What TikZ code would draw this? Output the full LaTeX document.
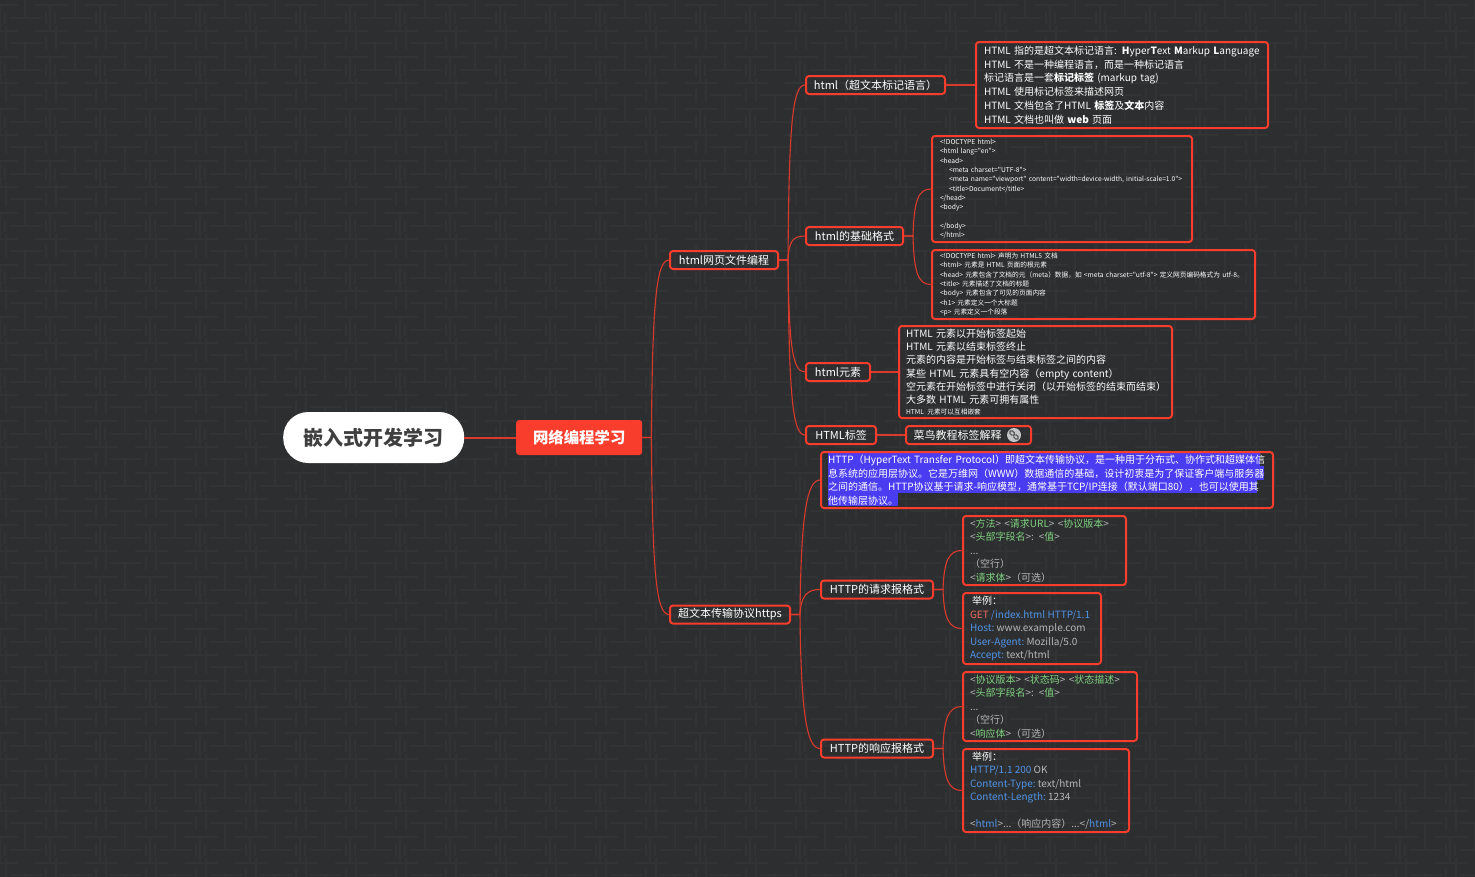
\documentclass[tikz,border=0pt]{standalone}
\usepackage{fontspec}
\setmainfont{Noto Sans CJK SC}[Ligatures=TeXOff]
\usetikzlibrary{calc}
\definecolor{bgdark}{HTML}{2D2E2F}
\definecolor{bgline}{HTML}{323334}
\definecolor{mapred}{HTML}{F93D2D}
\definecolor{linkred}{HTML}{D93A2C}
\definecolor{selblue}{HTML}{4A3CF0}
\definecolor{kwgreen}{HTML}{7FD07F}
\definecolor{kwblue}{HTML}{4F94E8}
\definecolor{kwgrey}{HTML}{B4B6B8}
\definecolor{kwred}{HTML}{EE6A5E}
\newcommand{\gn}[1]{\textcolor{kwgreen}{#1}}
\newcommand{\bl}[1]{\textcolor{kwblue}{#1}}
\newcommand{\rd}[1]{\textcolor{kwred}{#1}}
\newcommand{\ts}{\hspace{.22em}}
\tikzset{
	tagbox/.style={draw=mapred, line width=2pt, rounded corners=3pt, anchor=west, align=center, text=white, inner sep=0pt, minimum height=18pt, font=\fontsize{11}{13}\selectfont},
	txtbox/.style={draw=mapred, line width=2pt, rounded corners=3pt, anchor=north west, align=left, text=white, inner xsep=8pt, inner ysep=0pt},
	nearbox/.style={txtbox, inner xsep=7pt},
	branch/.style={draw=linkred, line width=1.1pt},
	big/.style={font=\fontsize{10}{13.5}\selectfont},
	wide/.style={font=\fontsize{10}{13.8}\selectfont},
	narrow/.style={font=\fontsize{10}{13.2}\selectfont},
	tiny/.style={font=\fontsize{6.7}{9.3}\selectfont},
	patternline/.style={draw=bgline, line width=2pt}
}
\begin{document}
\begin{tikzpicture}[x=1pt, y=-1pt]
	\useasboundingbox (0,0) rectangle (1475,876);
	\fill[bgdark] (-3,-3) rectangle (1478,879);
	%background
	\begin{scope}
		\clip (-3,-3) rectangle (1478,879);
		\foreach \px in {-50,0,...,1450}
			\foreach \py in {-52,0,...,884} {
				\draw[patternline] (\px+10,\py+43) -- (\px+42,\py+43) (\px+25,\py+43) -- (\px+25,\py+70) (\px+10,\py+70) -- (\px+42,\py+70);
				\draw[patternline] (\px+35,\py+57) -- (\px+68,\py+57) (\px+50,\py+57) -- (\px+50,\py+83) (\px+35,\py+83) -- (\px+68,\py+83);
				\draw[patternline] (\px+46,\py+12) -- (\px+46,\py+24) (\px+46,\py+37) -- (\px+46,\py+50) (\px+55,\py+12) -- (\px+55,\py+24) (\px+6,\py+26) -- (\px+6,\py+50);
			}
	\end{scope}

	%selection behind the text
	\fill[selblue] (828,453) rectangle (1260,466);
	\fill[selblue] (828,466) rectangle (1264,480);
	\fill[selblue] (828,480) rectangle (1257,493);
	\fill[selblue] (828,493) rectangle (898,506);

	%root
	\node[fill=white, rounded corners=25pt, anchor=west, minimum width=181pt, minimum height=51pt, inner sep=0pt, text={rgb,255:red,63;green,63;blue,63}, font=\fontsize{20}{24}\selectfont\bfseries] (root) at (283,437.5) {嵌入式开发学习};
	\node[fill=mapred, rounded corners=3pt, anchor=west, minimum width=126pt, minimum height=35pt, inner sep=0pt, text=white, font=\fontsize{15.4}{18}\selectfont\bfseries] (net) at (516,437.5) {网络编程学习};

	%first level
	\node[tagbox, minimum width=108pt] (webfile) at (669,260) {html网页文件编程};
	\node[tagbox, minimum width=120pt] (hyper) at (669,614.5) {超文本传输协议https};

	%html side
	\node[tagbox, minimum width=139pt] (htmlnote) at (805,85) {html（超文本标记语言）};
	\node[tagbox, minimum width=97pt] (basic) at (805,236) {html的基础格式};
	\node[tagbox, minimum width=64pt] (element) at (805,372) {html元素};
	\node[tagbox, minimum width=70pt] (htmltag) at (805,435) {HTML标签};

	\node[txtbox, wide, text width=276pt, minimum height=86pt] (intro) at (975,41) {HTML 指的是超文本标记语言: \textbf{H}yper\textbf{T}ext \textbf{M}arkup \textbf{L}anguage\\
		HTML 不是一种编程语言，而是一种标记语言\\
		标记语言是一套\textbf{标记标签} (markup tag)\\
		HTML 使用标记标签来描述网页\\
		HTML 文档包含了HTML \textbf{标签}及\textbf{文本}内容\\
		HTML 文档也叫做 \textbf{web} 页面};
	\node[txtbox, tiny, text width=244pt, minimum height=106pt] (code) at (931,135) {<!DOCTYPE html>\\
		<html lang="en">\\
		<head>\\
		\hspace*{1.35em}<meta charset="UTF-8">\\
		\hspace*{1.35em}<meta name="viewport" content="width=device-width, initial-scale=1.0">\\
		\hspace*{1.35em}<title>Document</title>\\
		</head>\\
		<body>\\
		\mbox{}\\
		</body>\\
		</html>};
	\node[txtbox, tiny, text width=307pt, minimum height=69pt] (codenote) at (931,249) {<!DOCTYPE html> 声明为 HTML5 文档\\
		<html> 元素是 HTML 页面的根元素\\
		<head> 元素包含了文档的元（meta）数据，如 <meta charset="utf-8"> 定义网页编码格式为 utf-8。\\
		<title> 元素描述了文档的标题\\
		<body> 元素包含了可见的页面内容\\
		<h1> 元素定义一个大标题\\
		<p> 元素定义一个段落};
	\node[nearbox, narrow, text width=259pt, minimum height=92pt] (elemnote) at (898,325) {HTML 元素以开始标签起始\\
		HTML 元素以结束标签终止\\
		元素的内容是开始标签与结束标签之间的内容\\
		某些 HTML 元素具有空内容（empty content）\\
		空元素在开始标签中进行关闭（以开始标签的结束而结束）\\
		大多数 HTML 元素可拥有属性\\[-2.5pt]
		{\fontsize{6.7}{9}\selectfont HTML 元素可以互相嵌套}};
	\node[tagbox, minimum width=125pt, align=left] (tutorial) at (905,435) {菜鸟教程标签解释\hspace{22pt}};
	\node[circle, fill=kwgrey!80!white, minimum size=14pt, inner sep=0pt] (linkicon) at (1014,435) {};
	\draw[bgdark!80!white, line width=1.2pt, rounded corners=1.5pt, rotate around={-45:(linkicon)}] (1008.5,433.3) rectangle (1014,436.7) (1014,433.3) rectangle (1019.5,436.7);

	%http side
	\node[nearbox, big, text width=438pt, minimum height=56pt] (httpnote) at (820,451) {HTTP（HyperText Transfer Protocol）即超文本传输协议，是一种用于分布式、协作式和超媒体信\\
		息系统的应用层协议。它是万维网（WWW）数据通信的基础，设计初衷是为了保证客户端与服务器\\
		之间的通信。HTTP协议基于请求-响应模型，通常基于TCP/IP连接（默认端口80），也可以使用其\\
		他传输层协议。};
	\node[tagbox, minimum width=112pt] (request) at (820,589.5) {HTTP的请求报格式};
	\node[tagbox, minimum width=112pt] (response) at (820,748.5) {HTTP的响应报格式};

	\node[nearbox, big, text=kwgrey, text width=149pt, minimum height=69pt] (reqform) at (962,515) {<\gn{方法}> <\gn{请求URL}> <\gn{协议版本}>\\
		<\gn{头部字段名}>: <\gn{值}>\\
		...\\
		（空行）\\
		<\gn{请求体}>（可选）};
	\node[nearbox, big, text=kwgrey, text width=124pt, minimum height=71pt] (reqcase) at (962,592) {\textcolor{white}{\hspace*{2pt}举例：}\\
		\rd{GET}\ts\bl{/index.html\ts HTTP/1.1}\\
		\bl{Host:}\ts www.example.com\\
		\bl{User-Agent:}\ts Mozilla/5.0\\
		\bl{Accept:}\ts text/html};
	\node[nearbox, big, text=kwgrey, text width=160pt, minimum height=69pt] (resform) at (962,671) {<\gn{协议版本}> <\gn{状态码}> <\gn{状态描述}>\\
		<\gn{头部字段名}>: <\gn{值}>\\
		...\\
		（空行）\\
		<\gn{响应体}>（可选）};
	\node[nearbox, big, text=kwgrey, text width=152pt, minimum height=83pt] (rescase) at (962,748) {\textcolor{white}{\hspace*{2pt}举例：}\\
		\bl{HTTP/1.1\ts 200}\ts OK\\
		\bl{Content-Type:}\ts text/html\\
		\bl{Content-Length:}\ts 1234\\
		\mbox{}\\
		<\bl{html}>...（响应内容）...</\bl{html}>};

	%connectors
	\draw[branch, line width=2pt] (root.east) -- (net.west);
	\foreach \a/\b in {htmlnote/intro, element/elemnote, htmltag/tutorial}
		\draw[branch, line width=1.4pt] (\a.east) -- (\a.east -| \b.west);
	\foreach \a/\b in {net/webfile, net/hyper, webfile/htmlnote, webfile/basic, webfile/element, webfile/htmltag, basic/code, basic/codenote, hyper/httpnote, hyper/request, hyper/response, request/reqform, request/reqcase, response/resform, response/rescase}
		\draw[branch] let \p1=($(\a.east)+(9,0)$), \p2=(\b.west) in (\a.east) -- (\p1) .. controls (\x1+1pt,{\y1+0.75*(\y2-\y1)}) and (\x2-13pt,\y2) .. (\p2);
\end{tikzpicture}
\end{document}
